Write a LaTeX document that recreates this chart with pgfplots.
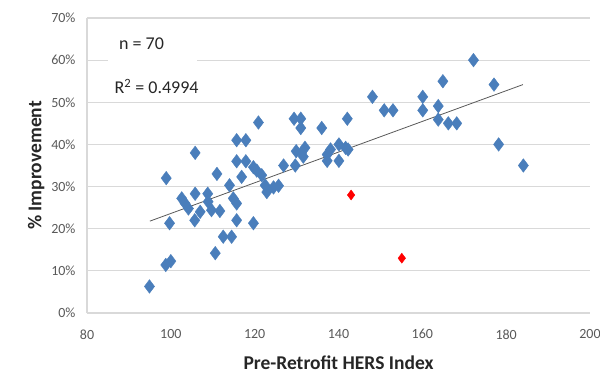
\documentclass[border=0pt]{standalone}
\usepackage{fontspec}
\setmainfont{Carlito}
\usepackage{pgfplots}
\pgfplotsset{compat=1.18}
\definecolor{ptblue}{HTML}{4A7EBB}
\definecolor{gridgray}{HTML}{D9D9D9}
\definecolor{ticktext}{HTML}{595959}
\begin{document}
\begin{tikzpicture}
\begin{axis}[
  at={(0,0)}, anchor=south west,
  scale only axis,
  width=503pt, height=295pt,
  xmin=80, xmax=200, ymin=0, ymax=70,
  xtick={80,100,...,200},
  ytick={0,10,...,70},
  yticklabels={0\%,10\%,20\%,30\%,40\%,50\%,60\%,70\%},
  /pgf/number format/assume math mode=true,
  axis x line=bottom, axis y line=left,
  axis line style={gridgray, line width=1.2pt, -},
  major tick length=0pt,
  ymajorgrids, grid style={gridgray, line width=1.2pt},
  tick label style={font=\fontsize{14}{16}\selectfont, text=ticktext},
  xticklabel style={yshift=-13pt},
  yticklabel style={xshift=-8pt},
  xlabel={\textbf{Pre-Retrofit HERS Index}},
  ylabel={\textbf{\% Improvement}},
  label style={font=\fontsize{19.5}{22}\selectfont, text=black!85},
  xlabel style={yshift=-10pt},
  ylabel style={yshift=0pt},
  clip=false,
]
\fill[white] (axis cs:85,51.5) rectangle (axis cs:106.3,68);
\node[font=\fontsize{18}{21}\selectfont, text=black!85] at (axis cs:93.0,64.0) {n = 70};
\node[font=\fontsize{18}{21}\selectfont, text=black!85] at (axis cs:96.6,53.8) {R\textsuperscript{2} = 0.4994};
\addplot[only marks, mark=diamond*, mark size=6.8pt, mark options={fill=ptblue, draw=ptblue}] coordinates {
(120.9,45.2)
(115.7,41) (117.9,41)
(105.8,38)
(115.7,36) (117.9,36)
(119.7,34.6) (120.5,33.8) (121.7,32.7) (122.5,30.3) (122.9,28.7)
(111,33)
(116.9,32.3)
(98.9,32)
(114,30.3)
(105.8,28.3) (108.8,28.3)
(102.6,27.2) (103.4,26) (104.2,24.8)
(114.9,27.2) (115.7,26)
(108.9,26.4) (109.7,24.4) (111.7,24.2)
(107,24)
(105.7,22)
(115.7,22)
(99.7,21.3)
(119.7,21.3)
(112.5,18.1) (114.5,18.1)
(110.6,14.2)
(98.8,11.4) (100,12.3)
(94.9,6.3)
(148.1,51.3)
(150.9,48.1) (153,48.1)
(129.4,46.1) (131,46.1) (131,43.9)
(142.1,46.1)
(136,43.9)
(129.9,38.4) (131.2,38) (132,39.2) (131.6,37.1)
(138.1,38.8) (137.3,37.6) (137.3,36.1)
(140.1,40) (141.7,39.2) (142.3,38.8)
(140.1,36.1)
(126.9,35)
(129.7,35)
(124.5,29.8) (125.7,30.2)
(172.2,60) (164.9,55) (177.1,54.2) (160.1,51.3) (160.1,48.1) (163.8,49.1)
(163.8,45.9) (166.2,45) (168.2,45) (178.2,40) (184.1,35)
};
\addplot[only marks, mark=diamond*, mark size=5pt, mark options={fill=red, draw=red}] coordinates {
(143,28) (155.1,13)
};
\addplot[black!65, line width=0.8pt] coordinates {(95,21.8) (184,54.2)};
\end{axis}
\pgfresetboundingbox
\useasboundingbox (-87pt,-63pt) rectangle (513pt,313pt);
\end{tikzpicture}
\end{document}
